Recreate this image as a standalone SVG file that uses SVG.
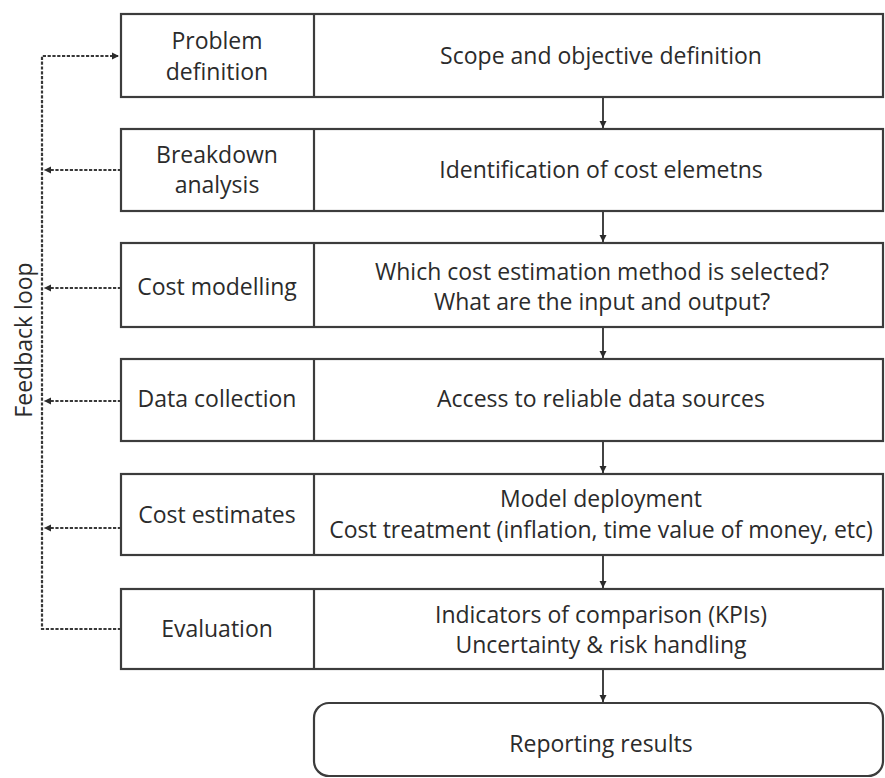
<svg xmlns="http://www.w3.org/2000/svg" width="885" height="778" viewBox="0 0 885 778">
  <style>
    .box { fill: #ffffff; stroke: #3c3c3c; stroke-width: 2.2; }
    .div { stroke: #3c3c3c; stroke-width: 2.2; }
    .flow { stroke: #2e2e2e; stroke-width: 1.8; fill: none; }
    .fb { stroke: #383838; stroke-width: 2.2; fill: none; stroke-dasharray: 3.2 1.6; }
    text { font-family: "Open Sans", "Liberation Sans", sans-serif; font-size: 23px; fill: #2b2b2b; text-anchor: middle; }
  </style>
  <defs>
    <marker id="arr" markerWidth="8" markerHeight="8" refX="7" refY="4" orient="auto" markerUnits="userSpaceOnUse">
      <path d="M0,0.5 L7,4 L0,7.5 Z" fill="#2b2b2b"/>
    </marker>
  </defs>

  <rect width="885" height="778" fill="#ffffff"/>

  <!-- process flow and feedback connectors -->
  <g id="connectors">
    <line class="flow" x1="603" y1="97" x2="603" y2="128" marker-end="url(#arr)"/>
    <line class="flow" x1="603" y1="211" x2="603" y2="242" marker-end="url(#arr)"/>
    <line class="flow" x1="603" y1="327" x2="603" y2="358" marker-end="url(#arr)"/>
    <line class="flow" x1="603" y1="441" x2="603" y2="473" marker-end="url(#arr)"/>
    <line class="flow" x1="603" y1="555" x2="603" y2="588" marker-end="url(#arr)"/>
    <line class="flow" x1="603" y1="669" x2="603" y2="702" marker-end="url(#arr)"/>
    <!-- feedback loop -->
    <path class="fb" d="M121,629 H42 V56 H119" marker-end="url(#arr)"/>
    <line class="fb" x1="121" y1="170" x2="44" y2="170" marker-end="url(#arr)"/>
    <line class="fb" x1="121" y1="288" x2="44" y2="288" marker-end="url(#arr)"/>
    <line class="fb" x1="121" y1="401" x2="44" y2="401" marker-end="url(#arr)"/>
    <line class="fb" x1="121" y1="528" x2="44" y2="528" marker-end="url(#arr)"/>
  </g>
  <text transform="translate(32,340) rotate(-90)">Feedback loop</text>

  <g id="problem-definition">
    <rect class="box" x="121" y="14" width="762" height="83"/>
    <line class="div" x1="314" y1="14" x2="314" y2="97"/>
    <text x="217" y="49">Problem</text>
    <text x="217" y="80">definition</text>
    <text x="601" y="64">Scope and objective definition</text>
  </g>

  <g id="breakdown-analysis">
    <rect class="box" x="121" y="129" width="762" height="82"/>
    <line class="div" x1="314" y1="129" x2="314" y2="211"/>
    <text x="217" y="163">Breakdown</text>
    <text x="217" y="193">analysis</text>
    <text x="601" y="178">Identification of cost elemetns</text>
  </g>

  <g id="cost-modelling">
    <rect class="box" x="121" y="243" width="762" height="84"/>
    <line class="div" x1="314" y1="243" x2="314" y2="327"/>
    <text x="217" y="295">Cost modelling</text>
    <text x="602" y="280">Which cost estimation method is selected?</text>
    <text x="602" y="310">What are the input and output?</text>
  </g>

  <g id="data-collection">
    <rect class="box" x="121" y="359" width="762" height="82"/>
    <line class="div" x1="314" y1="359" x2="314" y2="441"/>
    <text x="217" y="407">Data collection</text>
    <text x="601" y="407">Access to reliable data sources</text>
  </g>

  <g id="cost-estimates">
    <rect class="box" x="121" y="474" width="762" height="81"/>
    <line class="div" x1="314" y1="474" x2="314" y2="555"/>
    <text x="217" y="523">Cost estimates</text>
    <text x="601" y="507">Model deployment</text>
    <text x="601" y="538">Cost treatment (inflation, time value of money, etc)</text>
  </g>

  <g id="evaluation">
    <rect class="box" x="121" y="589" width="762" height="80"/>
    <line class="div" x1="314" y1="589" x2="314" y2="669"/>
    <text x="217" y="637">Evaluation</text>
    <text x="601" y="623">Indicators of comparison (KPIs)</text>
    <text x="601" y="653">Uncertainty &amp; risk handling</text>
  </g>

  <g id="reporting-results">
    <rect class="box" x="314" y="703" width="569" height="73" rx="15" ry="15"/>
    <text x="601" y="752">Reporting results</text>
  </g>
</svg>
